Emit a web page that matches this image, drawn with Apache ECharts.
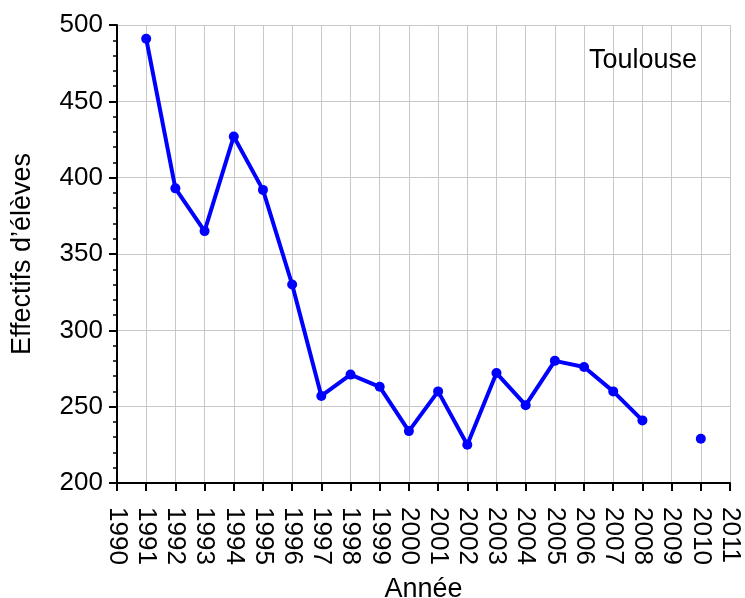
<!DOCTYPE html>
<html lang="fr">
<head>
  <meta charset="utf-8" />
  <title>Effectifs Toulouse</title>
  <script src="https://cdn.jsdelivr.net/npm/echarts@6/dist/echarts.min.js"></script>
  <style>
    html, body { margin: 0; padding: 0; background: #fff; }
    #chart { width: 745px; height: 598px; }
  </style>
</head>
<body>
  <div id="chart"></div>
  <script>
    // données
    var annees = [1991, 1992, 1993, 1994, 1995, 1996, 1997, 1998, 1999, 2000,
                  2001, 2002, 2003, 2004, 2005, 2006, 2007, 2008, 2009, 2010];
    var effectifs = [491, 393, 365, 427, 392, 330, 257, 271, 263, 234,
                     260, 225, 272, 251, 280, 276, 260, 241, null, 229];
    var ville = "Toulouse";

    var police = "Liberation Sans, Arial, sans-serif";
    var pts = annees.map(function (a, i) {
      return [a, effectifs[i] == null ? '-' : effectifs[i]];
    });

    var chart = echarts.init(document.getElementById('chart'));
    chart.setOption({
      animation: false,
      backgroundColor: '#fff',
      title: {
        text: ville, left: 584, top: 42,
        textStyle: { fontFamily: police, fontSize: 27, fontWeight: 'normal', color: '#000' }
      },
      grid: { left: 117, right: 15, top: 25, bottom: 115, containLabel: false, outerBoundsMode: 'none' },
      xAxis: {
        type: 'value', min: 1990, max: 2011, interval: 1,
        name: 'Année', nameLocation: 'middle', nameGap: 93,
        nameTextStyle: { fontFamily: police, fontSize: 27, color: '#000' },
        axisLine: { show: true, onZero: false, lineStyle: { color: '#000', width: 2 } },
        axisTick: { show: true, inside: false, length: 8, lineStyle: { color: '#000', width: 2 } },
        axisLabel: {
          rotate: -90, margin: 24, fontFamily: police, fontSize: 26, color: '#000',
          formatter: function (v) { return String(v); }
        },
        splitLine: { show: true, lineStyle: { color: '#c8c8c8', width: 1 } }
      },
      yAxis: {
        type: 'value', min: 200, max: 500, interval: 50,
        name: 'Effectifs d\u2019élèves', nameLocation: 'middle', nameGap: 81,
        nameTextStyle: { fontFamily: police, fontSize: 27, color: '#000' },
        axisLine: { show: true, lineStyle: { color: '#000', width: 2 } },
        axisTick: { show: true, inside: false, length: 8, lineStyle: { color: '#000', width: 2 } },
        minorTick: { show: true, splitNumber: 5, length: 4, lineStyle: { color: '#000', width: 1.5 } },
        axisLabel: { margin: 14, fontFamily: police, fontSize: 26, color: '#000' },
        splitLine: { show: true, lineStyle: { color: '#c8c8c8', width: 1 } }
      },
      series: [{
        type: 'line', data: pts, connectNulls: false,
        symbol: 'circle', symbolSize: 10,
        lineStyle: { color: '#0000ff', width: 4 },
        itemStyle: { color: '#0000ff' }
      }]
    });
  </script>
</body>
</html>
